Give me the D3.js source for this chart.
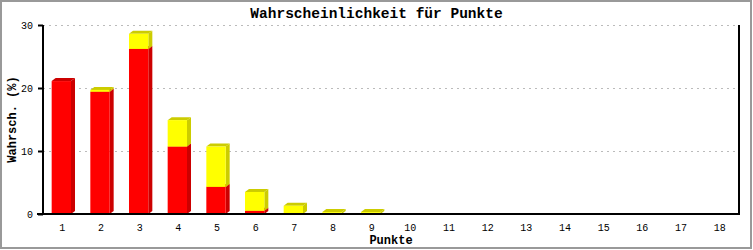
<!DOCTYPE html>
<html>
<head>
<meta charset="utf-8">
<script src="https://cdn.jsdelivr.net/npm/d3@7"></script>
<style>
  body { margin: 0; background: #fff; }
  text { font-family: "Liberation Mono", "DejaVu Sans Mono", monospace; }
</style>
</head>
<body>
<div id="chart"></div>
<script>
// categories (sum of points) and the two stacked series, in percent
const punkte = ["1","2","3","4","5","6","7","8","9","10","11","12","13","14","15","16","17","18"];
const rotWerte = [21.1, 19.4, 26.2, 10.7, 4.3, 0.5, 0, 0, 0, 0, 0, 0, 0, 0, 0, 0, 0, 0];
const gelbWerte = [0, 0.3, 2.4, 4.2, 6.4, 3.0, 1.3, 0.3, 0.3, 0, 0, 0, 0, 0, 0, 0, 0, 0];
const yTicks = [0, 10, 20, 30];

const W = 753, H = 250;
const margin = { top: 25, right: 14, bottom: 36, left: 43 };
const width = W - margin.left - margin.right;
const height = H - margin.top - margin.bottom;

const svg = d3.select("#chart").append("svg")
  .attr("width", W)
  .attr("height", H);

// outer frame
svg.append("rect")
  .attr("x", 1).attr("y", 1)
  .attr("width", W - 3).attr("height", H - 3)
  .attr("fill", "#fff")
  .attr("stroke", "#999")
  .attr("stroke-width", 2);

const g = svg.append("g")
  .attr("transform", `translate(${margin.left},${margin.top})`);

const x = d3.scaleBand().domain(punkte).range([0, width]);
const y = d3.scaleLinear().domain([0, 30]).range([height, 0]);

// dotted grid
g.selectAll(".grid")
  .data(yTicks.filter(d => d > 0))
  .enter().append("line")
  .attr("x1", 0).attr("x2", width)
  .attr("y1", d => y(d) + 0.5).attr("y2", d => y(d) + 0.5)
  .attr("stroke", "#bbb")
  .attr("stroke-dasharray", "2,4");

// stacked 3D bars
const stack = punkte.map((p, i) => ({ p, rot: rotWerte[i], gelb: gelbWerte[i] }));
const dx = 4, dy = 3;
const bw = x.bandwidth() * 0.5;

function box(sel, y0, y1, front, dark) {
  const top = y(y1), bottom = y(y0);
  if (bottom - top <= 0) return;
  sel.each(function (d) {
    const x0 = x(d.p) + x.bandwidth() / 2 - bw / 2 - 1;
    const gg = d3.select(this);
    // side
    gg.append("path")
      .attr("d", `M${x0 + bw},${top}L${x0 + bw + dx},${top - dy}L${x0 + bw + dx},${bottom - dy}L${x0 + bw},${bottom}Z`)
      .attr("fill", dark);
    // top
    gg.append("path")
      .attr("d", `M${x0},${top}L${x0 + dx},${top - dy}L${x0 + bw + dx},${top - dy}L${x0 + bw},${top}Z`)
      .attr("fill", dark);
    // front
    gg.append("rect")
      .attr("x", x0).attr("y", top)
      .attr("width", bw).attr("height", bottom - top)
      .attr("fill", front);
  });
}

g.selectAll(".bar")
  .data(stack)
  .enter().append("g")
  .attr("class", "bar")
  .each(function (d) {
    const sel = d3.select(this);
    box(sel, 0, d.rot, "#ff0000", "#cc0000");
    box(sel, d.rot, d.rot + d.gelb, "#ffff00", "#cccc00");
  });

// axes
const yAxis = g.append("g")
  .call(d3.axisLeft(y).tickValues(yTicks).tickSize(5).tickPadding(5).tickFormat(d3.format("d")));
yAxis.select(".domain").remove();
yAxis.selectAll(".tick line").attr("stroke", "#000").attr("stroke-width", 2);
yAxis.selectAll("text").attr("font-size", 10).attr("fill", "#000");

const xAxis = g.append("g")
  .attr("transform", `translate(0,${height})`)
  .call(d3.axisBottom(x).tickSize(0).tickPadding(10));
xAxis.select(".domain").remove();
xAxis.selectAll("text").attr("font-size", 10).attr("fill", "#000");

// axis lines (left, bottom, right)
g.append("line").attr("x1", 0).attr("x2", 0).attr("y1", 0).attr("y2", height + 1)
  .attr("stroke", "#000").attr("stroke-width", 2);
g.append("line").attr("x1", -6).attr("x2", width + 1).attr("y1", height).attr("y2", height)
  .attr("stroke", "#000").attr("stroke-width", 2);
g.append("line").attr("x1", width).attr("x2", width).attr("y1", 0).attr("y2", height)
  .attr("stroke", "#000").attr("stroke-width", 2);

// titles
svg.append("text")
  .attr("x", W / 2).attr("y", 18)
  .attr("text-anchor", "middle")
  .attr("font-size", 14.5).attr("font-weight", "bold")
  .text("Wahrscheinlichkeit für Punkte");

svg.append("text")
  .attr("x", margin.left + width / 2).attr("y", 244)
  .attr("text-anchor", "middle")
  .attr("font-size", 12).attr("font-weight", "bold")
  .text("Punkte");

svg.append("text")
  .attr("transform", `translate(16,${margin.top + height / 2}) rotate(-90)`)
  .attr("text-anchor", "middle")
  .attr("font-size", 12).attr("font-weight", "bold")
  .text("Wahrsch. (%)");
</script>
</body>
</html>
